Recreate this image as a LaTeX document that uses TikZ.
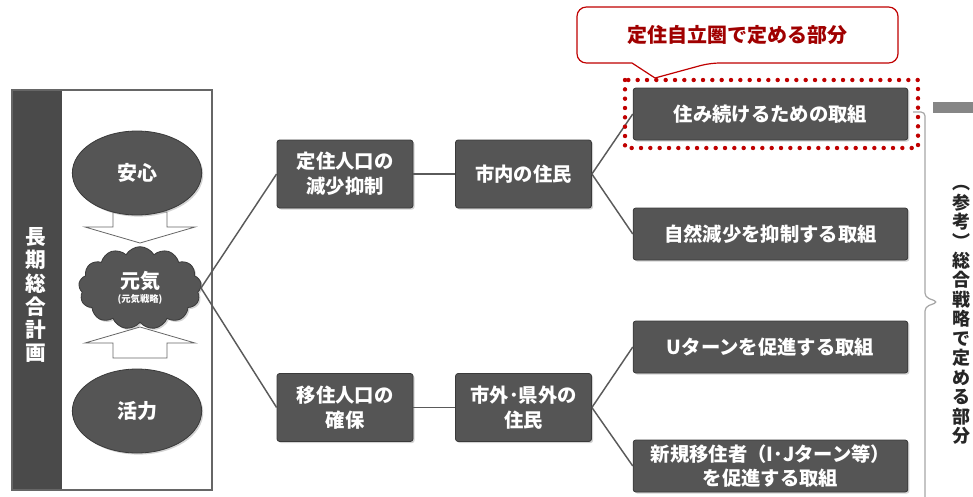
\documentclass[tikz,border=0pt]{standalone}
\usepackage{fontspec}
\setmainfont{Noto Sans CJK JP}
\usetikzlibrary{shapes.geometric,shapes.symbols,shadows}
\definecolor{boxgray}{HTML}{555555}
\definecolor{boxedge}{HTML}{3A3A3A}
\definecolor{conngray}{HTML}{5A5A5A}
\definecolor{darkred}{HTML}{C00000}
\definecolor{calltext}{HTML}{A00000}
\definecolor{bargray}{HTML}{4A4A4A}
\tikzset{
  boxshadow/.style={drop shadow={opacity=0.35,shadow xshift=1.2pt,shadow yshift=-1.2pt}},
  darkbox/.style={rectangle, draw=boxedge, line width=0.6pt, fill=boxgray, rounded corners=2pt,
    text=white, align=center, inner sep=0pt, boxshadow,
    font=\bfseries\fontsize{14.5}{18.5}\selectfont},
  midbox/.style={darkbox, minimum width=102pt, minimum height=51pt},
  widebox/.style={darkbox, minimum width=206pt, minimum height=39pt},
  ell/.style={ellipse, fill=boxgray, draw=boxedge, line width=0.6pt, minimum width=97pt, minimum height=63pt,
    text=white, boxshadow, font=\bfseries\fontsize{15}{18}\selectfont},
  conn/.style={draw=conngray, line width=1.1pt},
  hollowarrow/.style={draw=gray!80!black, fill=white, line width=0.6pt},
  reddots/.style={draw=darkred, line width=3.3pt, line cap=round, dash pattern=on 0pt off 7pt},
  bracketline/.style={draw=gray!70, line width=0.9pt, rounded corners=3pt},
}
\begin{document}
\begin{tikzpicture}[x=0.75pt,y=-0.75pt]
\useasboundingbox (0,0) rectangle (973,496);

% left frame
\fill[bargray] (12,90) rectangle (62,490);
\draw[gray!80!black, line width=0.8pt] (12,90) rectangle (212,490);
\node[text=white, align=center, inner sep=0pt, font=\bfseries\fontsize{15.5}{17.3}\selectfont] (choki) at (36,295) {長\\期\\総\\合\\計\\画};

% hollow arrows
\draw[hollowarrow] (113,212) -- (167,212) -- (167,227) -- (195,227) -- (140,243) -- (85,227) -- (113,227) -- cycle;
\draw[hollowarrow] (113,358) -- (167,358) -- (167,343) -- (195,343) -- (140,327) -- (85,343) -- (113,343) -- cycle;

% ellipses and cloud
\node[ell] (anshin) at (137,173) {安心};
\node[ell] (katsu) at (137,411) {活力};
\node[cloud, cloud puffs=13, cloud puff arc=120, aspect=1.5, fill=boxgray, draw=boxedge, line width=0.6pt,
  minimum width=92pt, minimum height=62pt, inner sep=0pt, text=white, align=center, boxshadow] (genki) at (140,288)
  {{\bfseries\fontsize{15}{16}\selectfont 元気}\\[-1pt]{\bfseries\fontsize{7}{8}\selectfont (元気戦略)}};

% middle boxes
\node[midbox] (teijuu) at (345,174) {定住人口の\\減少抑制};
\node[midbox] (shinai) at (523.5,174) {市内の住民};
\node[midbox] (ijuu) at (345,407.5) {移住人口の\\確保};
\node[midbox] (shigai) at (523.5,407.5) {市外･県外の\\住民};

% right boxes
\node[widebox] (sumi) at (770.5,114) {住み続けるための取組};
\node[widebox] (shizen) at (770.5,234) {自然減少を抑制する取組};
\node[widebox] (uturn) at (770.5,347) {Uターンを促進する取組};
\node[widebox] (shinki) at (770.5,466) {新規移住者（I･Jターン等）\\を促進する取組};

% connectors
\draw[conn] (genki.east) -- (teijuu.west);
\draw[conn] (genki.east) -- (ijuu.west);
\draw[conn] (teijuu.east) -- (shinai.west);
\draw[conn] (ijuu.east) -- (shigai.west);
\draw[conn] (shinai.east) -- (sumi.west);
\draw[conn] (shinai.east) -- (shizen.west);
\draw[conn] (shigai.east) -- (uturn.west);
\draw[conn] (shigai.east) -- (shinki.west);

% red dotted frame
\draw[reddots] (625,80) rectangle (918,148);

% callout
\draw[darkred, line width=0.9pt, fill=white, rounded corners=7pt]
  (737,7) -- (898,7) -- (898,63) -- (710,63) [sharp corners] -- (655,78) -- (632,63) [rounded corners=7pt] -- (577,63) -- (577,7) -- cycle;
\node[text=calltext, inner sep=0pt, font=\bfseries\fontsize{15}{18}\selectfont] (callout) at (737,35) {定住自立圏で定める部分};

% grey bar at right
\fill[gray!95] (933,102) rectangle (973,113);

% bracket
\draw[bracketline] (913,112) -- (925,112) -- (925,297) -- (938,302) -- (925,307) -- (925,500);

% right vertical text
\node[text=black!85, align=center, inner sep=0pt, font=\bfseries\fontsize{13.5}{14.6}\selectfont] (sanko) at (961,315)
  {︵\\参\\考\\︶\\総\\合\\戦\\略\\で\\定\\め\\る\\部\\分};
\end{tikzpicture}
\end{document}
